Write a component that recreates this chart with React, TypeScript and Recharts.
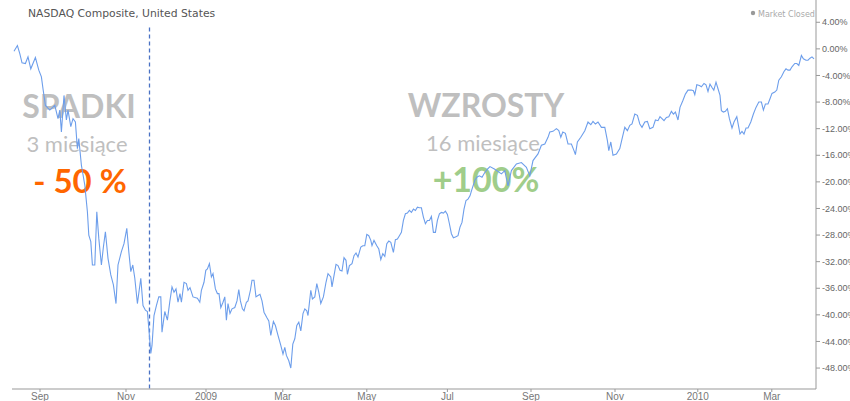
// NASDAQ Composite – % zmiany od sierpnia 2008, spadki vs wzrosty.
import React from 'react'
import { LineChart, Line, XAxis, YAxis, ReferenceLine } from 'recharts'

// [dzień sesyjny od startu, zmiana %]
const fall2008: [number, number][] = [
  [1.0, -0.35], [2.7, 0.5], [3.9, -0.7], [5.0, -2.1], [6.7, -2.2], [8.0, -1.2], [9.4, -3.0],
  [11.7, -1.3], [13.4, -3.2], [14.7, -4.2], [15.5, -6.0], [16.7, -8.5], [18.9, -9.2], [21.4, -8.5],
  [23.0, -10.5], [23.9, -9.2], [24.7, -12.5], [26.0, -7.0], [27.2, -10.7], [28.0, -9.2], [29.4, -11.7],
  [30.5, -10.5], [31.7, -11.0], [32.7, -15.0], [33.4, -13.5], [34.7, -17.5], [36.4, -20.5], [37.7, -24.5],
  [38.4, -28.0], [39.4, -29.0], [40.2, -32.5], [41.4, -32.5], [42.4, -24.5], [43.4, -28.5], [44.7, -32.5],
  [45.7, -29.8], [46.7, -27.5], [48.0, -31.5], [49.4, -34.0], [50.7, -35.5], [52.0, -38.3], [53.0, -32.5],
  [54.7, -30.5], [56.0, -29.3], [57.4, -27.0], [58.4, -30.5], [59.4, -33.5], [60.4, -32.5], [61.4, -34.5],
  [62.7, -38.3], [64.4, -34.5], [65.5, -38.6], [66.7, -39.3], [67.7, -39.5], [68.4, -42.0], [69.4, -45.8],
  [70.0, -44.6], [71.0, -40.1], [72.2, -38.6], [73.4, -37.3], [74.4, -37.3], [75.0, -42.6], [76.4, -39.5],
  [77.7, -40.8], [78.9, -38.0], [80.0, -35.8],
]

const winter2009: [number, number][] = [
  [81.0, -36.6], [82.0, -36.1], [83.0, -38.1], [84.0, -36.8], [84.7, -38.1], [86.0, -35.1], [87.2, -35.3],
  [88.0, -36.3], [89.0, -35.9], [90.5, -37.3], [92.7, -37.5], [93.9, -38.1], [94.7, -36.3], [96.0, -35.1],
  [96.9, -33.3], [97.7, -33.1], [98.7, -32.3], [99.7, -34.3], [100.5, -33.8], [101.7, -36.1], [102.7, -36.8],
  [103.5, -36.8], [104.4, -38.9], [105.5, -38.1], [106.4, -37.3], [107.2, -40.8], [108.0, -38.3], [109.0, -39.8],
  [110.0, -39.1], [111.4, -38.9], [112.5, -37.9], [113.4, -36.2], [114.2, -37.9], [115.2, -39.1], [116.0, -39.4],
  [117.2, -38.1], [118.0, -37.9], [119.2, -36.3], [120.0, -34.8], [121.0, -34.8], [122.0, -37.3], [123.0, -37.1],
  [124.0, -36.9], [125.0, -37.9], [126.0, -39.6], [127.4, -40.4], [128.4, -40.9], [129.4, -43.1], [130.7, -41.0],
  [131.7, -41.6], [133.0, -43.1], [134.4, -44.6], [135.5, -45.9], [136.4, -44.9], [137.2, -46.1], [138.4, -46.9],
  [139.4, -48.0],
]

const spring2009: [number, number][] = [
  [140.4, -44.4], [141.4, -43.6], [142.4, -41.6], [143.4, -41.1], [144.4, -42.4], [145.5, -39.8], [146.4, -39.1],
  [147.4, -39.4], [148.0, -40.1], [149.4, -36.3], [150.2, -37.6], [151.4, -37.3], [152.4, -35.3], [153.4, -36.6],
  [154.4, -38.3], [155.7, -37.3], [157.0, -35.1], [158.0, -33.8], [159.4, -34.3], [160.0, -35.8], [161.0, -34.1],
  [162.0, -32.4], [163.0, -32.6], [164.0, -33.3], [165.0, -33.4], [166.0, -31.4], [167.0, -31.8], [167.7, -33.9],
  [168.7, -32.6], [170.0, -32.3], [171.0, -31.1], [172.0, -30.7], [173.0, -31.3], [174.4, -29.8], [175.4, -29.6],
  [176.4, -29.6], [177.4, -27.9], [178.4, -28.1], [179.4, -28.8], [180.0, -29.6], [181.0, -28.8], [182.4, -29.6],
  [183.4, -30.1], [184.4, -31.7], [185.4, -30.8], [186.4, -31.2], [187.4, -29.3], [188.4, -28.9], [189.4, -29.1],
  [190.7, -30.6], [191.7, -28.7], [192.7, -28.6], [193.7, -28.1], [194.7, -27.6], [195.7, -25.8], [196.7, -24.8],
  [197.7, -24.7], [198.7, -24.3], [199.7, -24.6], [200.7, -24.1], [201.7, -24.3], [202.7, -23.8], [203.7, -23.9],
  [204.7, -23.9], [205.7, -25.3], [206.7, -26.3], [207.7, -25.8], [208.7, -25.8], [209.7, -25.2], [210.7, -27.6],
  [211.7, -27.6], [212.7, -25.8], [213.7, -24.8], [214.7, -24.6], [215.7, -24.7], [216.7, -24.4], [217.7, -24.9],
]

const summer2009: [number, number][] = [
  [218.7, -26.3], [219.7, -27.8], [220.7, -28.4], [221.7, -28.3], [223.0, -28.1], [224.0, -26.8], [225.0, -26.1],
  [226.0, -24.1], [227.0, -22.8], [228.0, -22.6], [229.0, -22.1], [230.0, -21.1], [231.4, -19.8], [232.4, -19.3],
  [233.7, -19.1], [235.0, -19.3], [236.4, -18.6], [237.7, -18.1], [239.0, -17.7], [241.4, -18.1], [244.7, -18.8],
  [246.4, -18.3], [248.0, -20.6], [249.7, -18.3], [252.2, -17.3], [254.7, -17.1], [257.2, -17.8], [258.9, -19.1],
  [260.5, -16.8], [263.0, -15.8], [264.7, -14.5], [266.4, -14.3], [268.0, -13.3], [268.9, -12.5], [270.5, -12.4],
  [272.2, -12.0], [273.4, -12.3], [274.4, -13.3], [275.4, -12.5], [276.7, -12.7], [278.0, -14.3], [279.7, -14.3],
  [281.0, -15.3], [281.7, -15.9], [282.7, -14.0], [284.4, -13.3], [286.4, -12.3], [288.0, -11.0], [289.4, -11.4],
  [290.5, -10.9], [291.7, -11.3], [293.0, -11.0], [294.7, -11.8], [296.4, -11.8], [297.7, -13.8], [298.4, -15.3],
  [299.4, -14.0], [300.5, -16.0], [302.2, -15.8], [303.9, -15.0], [305.2, -13.3], [306.4, -11.8], [307.7, -12.3],
  [308.9, -11.5], [310.0, -11.3], [311.4, -9.8], [312.7, -10.0], [313.9, -11.3], [315.0, -11.8], [316.4, -11.0],
  [317.7, -10.9], [318.9, -12.0],
]

const winter2010: [number, number][] = [
  [320.5, -11.8], [321.7, -10.7], [323.0, -10.8], [324.0, -10.2], [325.0, -10.5], [326.0, -10.8], [327.2, -10.3],
  [328.4, -10.2], [329.7, -9.4], [330.7, -9.8], [331.7, -9.5], [333.0, -10.7], [334.0, -8.8], [335.4, -7.8],
  [336.7, -6.8], [338.0, -6.2], [339.7, -6.2], [340.7, -6.3], [341.4, -6.9], [342.4, -5.4], [343.7, -5.5],
  [344.7, -5.7], [346.0, -5.2], [347.0, -5.4], [348.0, -6.4], [349.0, -5.3], [350.0, -5.8], [350.9, -6.2],
  [352.0, -5.0], [353.0, -6.0], [354.0, -7.0], [354.7, -9.3], [355.7, -9.5], [356.7, -9.4], [357.7, -9.0],
  [358.7, -10.5], [360.0, -11.9], [361.0, -11.0], [362.4, -10.2], [363.4, -11.8], [364.0, -12.8], [365.0, -12.4],
  [366.0, -12.8], [367.0, -11.9], [368.0, -11.9], [369.4, -11.0], [370.7, -9.8], [372.0, -8.8], [373.4, -8.0],
  [374.7, -8.0], [375.7, -9.2], [376.7, -8.3], [378.0, -8.3], [379.0, -7.5], [380.0, -6.7], [381.4, -6.5],
  [382.4, -6.2], [383.4, -4.7], [384.7, -4.2], [386.0, -3.4], [387.0, -3.0], [388.0, -3.2], [389.0, -3.2],
  [390.0, -2.7], [391.4, -2.2], [392.4, -2.2], [393.4, -2.5], [394.7, -1.0], [395.7, -1.5], [397.0, -1.7],
  [398.0, -1.7], [399.0, -1.4], [400.0, -1.2], [401.0, -1.5],
]

const monthTicks = [14, 57, 97, 135.4, 177.4, 217.7, 259.5, 301.5, 342.9, 379.9]
const monthLabels = ['Sep', 'Nov', '2009', 'Mar', 'May', 'Jul', 'Sep', 'Nov', '2010', 'Mar']
const pctTicks = [-48, -44, -40, -36, -32, -28, -24, -20, -16, -12, -8, -4, 0, 4]

const bottomDay = 68.75 // dołek listopad 2008 (linia przerywana)
const bottomLineTop = 3.2

const points = [...fall2008, ...winter2009, ...spring2009, ...summer2009, ...winter2010]
  .map(([day, pct]) => ({ day, pct }))

const axisFont = "'Liberation Sans', Arial, sans-serif"
const labelFont = "Lato, 'Open Sans', sans-serif"

export default function App() {
  return (
    <div style={{ position: 'absolute', left: 0, top: 0, width: 850, height: 401, background: '#fff' }}>
      <svg width={850} height={401} style={{ position: 'absolute', left: 0, top: 0 }}>
        <text x={28} y={17} fontFamily="'DejaVu Sans', Verdana, sans-serif" fontSize={10.8} fill="#555">
          NASDAQ Composite, United States
        </text>
        <circle cx={753} cy={13} r={2.2} fill="#999" />
        <text x={758} y={16.5} fontFamily="'DejaVu Sans', Verdana, sans-serif" fontSize={8} fill="#aaa">
          Market Closed
        </text>

        <g fontFamily={labelFont} textAnchor="middle">
          <text x={79} y={118} fontSize={32} fontWeight={700} fill="#bfbfbf">SPADKI</text>
          <text x={77} y={152} fontSize={22} fill="#bfbfbf">3 miesiące</text>
          <text x={80} y={193} fontSize={33} fontWeight={700} fill="#ff6600">- 50 %</text>

          <text x={486} y={117} fontSize={32} fontWeight={700} fill="#bfbfbf">WZROSTY</text>
          <text x={483} y={151} fontSize={22} fill="#bfbfbf">16 miesiące</text>
          <text x={486} y={192} fontSize={34} fontWeight={700} fill="#a0cd8a">+100%</text>
        </g>
      </svg>

      <div style={{ position: 'absolute', left: 0, top: 0 }}>
        <LineChart width={850} height={401} data={points} margin={{ top: 0, right: 0, left: 12, bottom: 0 }}>
          <XAxis
            dataKey="day"
            type="number"
            domain={[0, 402]}
            ticks={monthTicks}
            tickFormatter={(v: number) => monthLabels[monthTicks.indexOf(v)] ?? ''}
            height={12}
            tickSize={3}
            tickMargin={1}
            stroke="#999"
            tick={{ fill: '#777', fontSize: 10, fontFamily: axisFont }}
            allowDataOverflow
          />
          <YAxis
            orientation="right"
            type="number"
            domain={[-51.15, 7.35]}
            ticks={pctTicks}
            tickFormatter={(v: number) => `${v.toFixed(2)}%`}
            width={34}
            tickSize={4}
            tickMargin={2}
            stroke="#999"
            tick={{ fill: '#666', fontSize: 9, fontFamily: axisFont }}
            allowDataOverflow
          />
          <ReferenceLine
            segment={[{ x: bottomDay, y: bottomLineTop }, { x: bottomDay, y: -51.15 }]}
            stroke="#4a72c4"
            strokeWidth={1.3}
            strokeDasharray="4 3"
          />
          <Line
            type="linear"
            dataKey="pct"
            stroke="#6d9eeb"
            strokeWidth={1.1}
            dot={false}
            isAnimationActive={false}
          />
        </LineChart>
      </div>
    </div>
  )
}
